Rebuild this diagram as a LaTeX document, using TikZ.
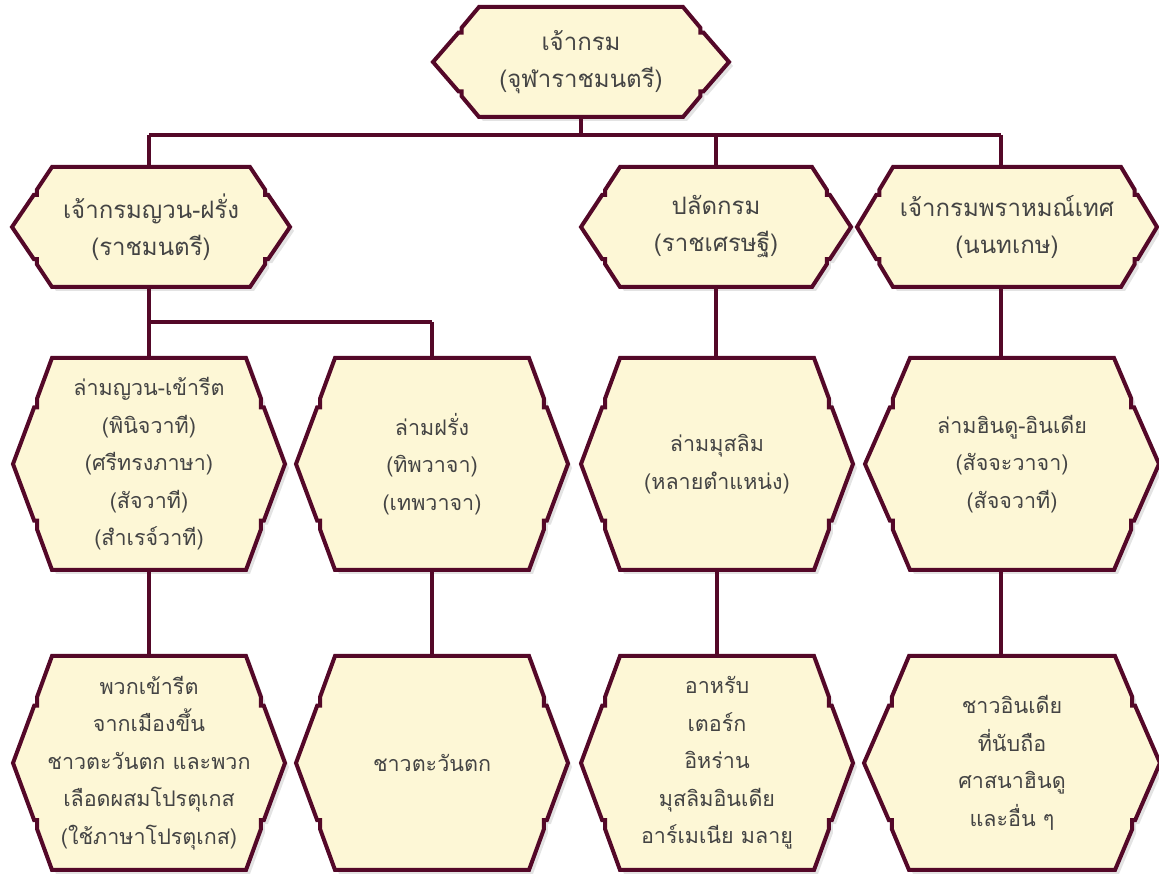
\documentclass[tikz,border=0pt]{standalone}
\usepackage{fontspec}
\setmainfont[Script=Thai]{Loma}
\usetikzlibrary{shadows}
\definecolor{maroon}{RGB}{84,8,40}
\definecolor{cream}{RGB}{253,247,214}
\definecolor{ink}{RGB}{68,68,68}
\tikzset{
        hexline/.style={draw=maroon, line width=4pt, fill=cream, line join=miter,
                drop shadow={shadow xshift=4pt, shadow yshift=-4pt, opacity=.22}},
        hextext/.style={align=center, text=ink, inner sep=0pt,
                font=\fontsize{24}{37}\selectfont},
        smalltext/.style={font=\fontsize{21.5}{37.5}\selectfont},
        link/.style={draw=maroon, line width=4pt}
}
\newcommand\hexbox[7][]{%
        \begin{scope}[shift={(#3)}]
                \pgfmathsetmacro\ha{#4-#6}
                \pgfmathsetmacro\hnx{#4-#6+0.38*#6}
                \pgfmathsetmacro\hny{0.62*#5}
                \pgfmathsetmacro\hv{0.085*#5}
                \draw [hexline] (\ha,#5) -- (\hnx,\hny) -- (\hnx,\hny-\hv) -- (\hnx+3,\hny-\hv) -- (#4,0)
                        -- (\hnx+3,-\hny+\hv) -- (\hnx,-\hny+\hv) -- (\hnx,-\hny) -- (\ha,-#5)
                        -- (-\ha,-#5) -- (-\hnx,-\hny) -- (-\hnx,-\hny+\hv) -- (-\hnx-3,-\hny+\hv) -- (-#4,0)
                        -- (-\hnx-3,\hny-\hv) -- (-\hnx,\hny-\hv) -- (-\hnx,\hny) -- (-\ha,#5) -- cycle;
                \node [hextext, #1, minimum width={2*#4pt}, minimum height={2*#5pt}] (#2) at (0,0) {#7};
        \end{scope}}
\begin{document}
\begin{tikzpicture}[x=1pt, y=1pt]
        \useasboundingbox (0,0) rectangle (1159,874);
        \coordinate (busL) at (149,739);
        \coordinate (busR) at (1001,739);
        \coordinate (subL) at (149,552);
        \coordinate (subR) at (432,552);
        \draw [link] (busL) -- (busR);
        \draw [link] (subL) -- (subR);
        \hexbox{chief}{581,812}{148}{55}{46}{เจ้ากรม\\(จุฬาราชมนตรี)}
        \hexbox{raj}{151,647}{139}{60}{40}{เจ้ากรมญวน-ฝรั่ง\\(ราชมนตรี)}
        \hexbox{palat}{716,647}{135}{60}{39}{ปลัดกรม\\(ราชเศรษฐี)}
        \hexbox{brahm}{1007,647}{150}{60}{36}{เจ้ากรมพราหมณ์เทศ\\(นนทเกษ)}
        \hexbox[smalltext]{lamyuan}{149,410}{136}{106}{39}{ล่ามญวน-เข้ารีต\\(พินิจวาที)\\(ศรีทรงภาษา)\\(สัจวาที)\\(สำเรจ์วาที)}
        \hexbox[smalltext]{lamfarang}{432,410}{136}{106}{39}{ล่ามฝรั่ง\\(ทิพวาจา)\\(เทพวาจา)}
        \hexbox[smalltext]{lammuslim}{717,410}{136}{106}{39}{ล่ามมุสลิม\\(หลายตำแหน่ง)}
        \hexbox[smalltext]{lamhindu}{1012,410}{147}{106}{45}{ล่ามฮินดู-อินเดีย\\(สัจจะวาจา)\\(สัจจวาที)}
        \hexbox[smalltext]{kaoreet}{149,111}{136}{107}{39}{พวกเข้ารีต\\จากเมืองขึ้น\\ชาวตะวันตก และพวก\\เลือดผสมโปรตุเกส\\(ใช้ภาษาโปรตุเกส)}
        \hexbox[smalltext]{western}{432,111}{136}{107}{39}{ชาวตะวันตก}
        \hexbox[smalltext]{muslim}{717,111}{136}{107}{39}{อาหรับ\\เตอร์ก\\อิหร่าน\\มุสลิมอินเดีย\\อาร์เมเนีย มลายู}
        \hexbox[smalltext]{indian}{1012,111}{148}{107}{45}{ชาวอินเดีย\\ที่นับถือ\\ศาสนาฮินดู\\และอื่น ๆ}
        \draw [link] (chief.south) -- (chief.south |- busL);
        \draw [link] (busL) -- (busL |- raj.north);
        \draw [link] (busL -| palat.north) -- (palat.north);
        \draw [link] (busR) -- (busR |- brahm.north);
        \draw [link] (busL |- raj.south) -- (busL |- lamyuan.north);
        \draw [link] (subR) -- (subR |- lamfarang.north);
        \draw [link] (palat.south) -- (palat.south |- lammuslim.north);
        \draw [link] (busR |- brahm.south) -- (busR |- lamhindu.north);
        \draw [link] (busL |- lamyuan.south) -- (busL |- kaoreet.north);
        \draw [link] (subR |- lamfarang.south) -- (subR |- western.north);
        \draw [link] (lammuslim.south) -- (lammuslim.south |- muslim.north);
        \draw [link] (busR |- lamhindu.south) -- (busR |- indian.north);
\end{tikzpicture}
\end{document}
